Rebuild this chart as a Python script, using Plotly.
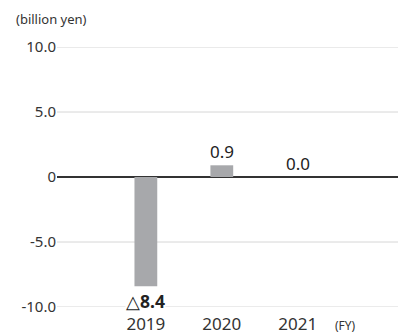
import plotly.graph_objects as go

categories = ["2019", "2020", "2021"]
values = [-8.4, 0.9, 0.0]
y_ticks = [10, 5, 0, -5, -10]
y_tick_labels = ["10.0", "5.0", "0", "-5.0", "-10.0"]

def fmt(v):
    if v < 0:
        return "△<b>" + f"{abs(v):.1f}" + "</b>"
    return f"{v:.1f}"

FONT = "Noto Sans"
xpos = list(range(len(categories)))

fig = go.Figure()

# horizontal gridlines at the y tick values
for t in y_ticks:
    if t == 0:
        continue
    fig.add_shape(type="line", xref="paper", yref="y", x0=0, x1=1, y0=t, y1=t,
                  line=dict(color="#d6d6d6", width=1), layer="below")

fig.add_trace(go.Bar(
    x=xpos, y=values, width=0.30,
    marker=dict(color="#a7a8ab", line=dict(width=0)),
    hoverinfo="skip",
))

for xp, v in zip(xpos, values):
    fig.add_annotation(
        x=xp, y=v, xref="x", yref="y", text=fmt(v), showarrow=False,
        yanchor="top" if v < 0 else "bottom",
        yshift=-2 if v < 0 else 1,
        font=dict(family=FONT, size=17 if v >= 0 else 17.5, color="#222222"),
        bgcolor="white" if v < 0 else "rgba(0,0,0,0)",
        borderpad=0,
    )

fig.add_annotation(xref="paper", yref="paper", x=-0.125, y=1.0, yshift=28,
                   xanchor="left", yanchor="middle", text="(billion yen)",
                   showarrow=False, font=dict(family=FONT, size=13, color="#333333"))
fig.add_annotation(xref="paper", yref="paper", x=0.845, y=0, yshift=-18,
                   xanchor="center", yanchor="middle", text="(FY)",
                   showarrow=False, font=dict(family=FONT, size=12, color="#333333"))

fig.update_layout(
    template="none",
    width=398, height=334,
    margin=dict(l=57, r=0, t=47, b=27),
    paper_bgcolor="white", plot_bgcolor="white",
    showlegend=False,
    font=dict(family=FONT, color="#333333"),
    xaxis=dict(
        range=[-1.17, 3.32], tickvals=xpos, ticktext=categories,
        showgrid=False, zeroline=False, showline=False,
        ticks="", tickfont=dict(family=FONT, size=17, color="#333333"),
        ticklabelstandoff=5,
    ),
    yaxis=dict(
        range=[-10, 10], tickvals=y_ticks, ticktext=y_tick_labels,
        showgrid=False,
        zeroline=True, zerolinecolor="#333333", zerolinewidth=1.5,
        showline=False, ticks="",
        tickfont=dict(family=FONT, size=15, color="#333333"),
    ),
)

fig.write_html("out.html")
